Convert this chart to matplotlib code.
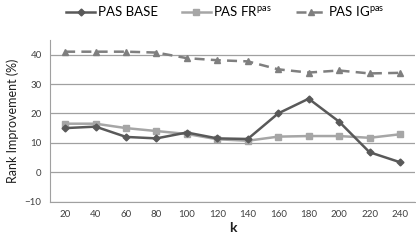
import matplotlib
matplotlib.use('Agg')
import matplotlib.pyplot as plt
import numpy as np

k = [20, 40, 60, 80, 100, 120, 140, 160, 180, 200, 220, 240]
pas_base = [15, 15.5, 12, 11.5, 13.5, 11.5, 11.3, 20, 25, 17.2, 6.8, 3.4]
pas_fr = [16.5, 16.5, 15, 14, 13, 11.2, 10.7, 12.1, 12.3, 12.3, 11.7, 12.9]
pas_ig = [41, 41, 41, 40.7, 38.8, 38.1, 37.7, 35, 33.9, 34.6, 33.6, 33.8]

plt.rcParams['font.family'] = ['Lato', 'DejaVu Sans']
plt.rcParams['mathtext.fontset'] = 'custom'
plt.rcParams['mathtext.rm'] = 'Lato'

fig = plt.figure(figsize=(4.16, 2.42), dpi=100)
ax = fig.add_axes([0.12, 0.167, 0.878, 0.668])

x = np.arange(len(k))
ax.plot(x, pas_base, color='#595959', lw=1.8, marker='D', ms=3.5, label='PAS BASE', zorder=4)
ax.plot(x, pas_fr, color='#a6a6a6', lw=1.8, marker='s', ms=5, label=r'PAS FR$^{\mathrm{pas}}$', zorder=3)
ax.plot(x, pas_ig, color='#7f7f7f', lw=1.8, ls=(0, (4, 2.5)), marker='^', ms=5,
        label=r'PAS IG$^{\mathrm{pas}}$', zorder=3)

ax.set_xlim(-0.5, len(k) - 0.5)
ax.set_ylim(-10, 45)
ax.set_yticks(range(-10, 41, 10))
ax.set_xticks(x)
ax.set_xticklabels([str(v) for v in k])
ax.grid(axis='y', color='#a0a0a0', lw=0.9)
ax.set_axisbelow(True)
for s in ['top', 'right']:
    ax.spines[s].set_visible(False)
ax.spines['left'].set_color('#a0a0a0')
ax.spines['bottom'].set_color('#a0a0a0')
ax.tick_params(length=0, labelsize=7, colors='#404040', pad=6)

ax.set_ylabel('Rank Improvement (%)', fontsize=9, color='#202020')
ax.set_xlabel('k', fontsize=10, fontweight='bold', color='#202020', labelpad=2)

ax.legend(loc='lower center', bbox_to_anchor=(0.48, 1.06), ncol=3, frameon=False,
          fontsize=9.5, handlelength=2.2, columnspacing=1.8, handletextpad=0.2)

fig.savefig('out.png', dpi=100)
